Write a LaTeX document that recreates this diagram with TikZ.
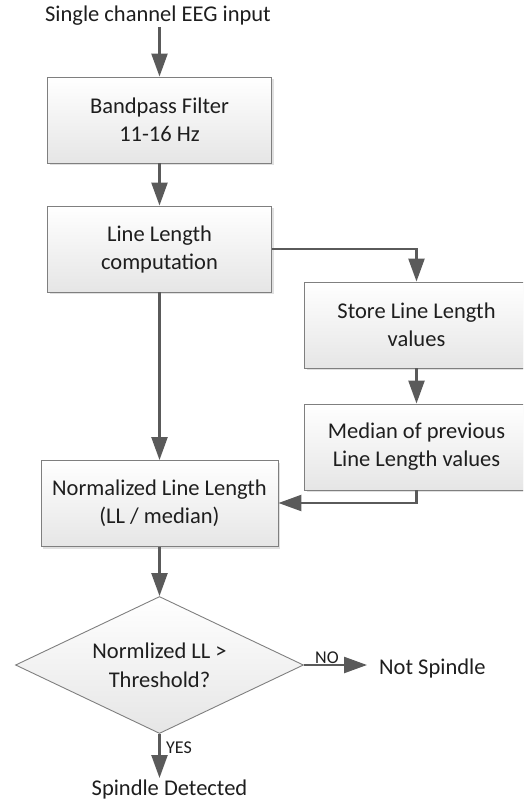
\documentclass[tikz,border=0pt]{standalone}
\usepackage{fontspec}
\setmainfont{Carlito}
\usetikzlibrary{arrows.meta,shapes.geometric,shadows}
\definecolor{arrowgray}{HTML}{5A5A5A}
\definecolor{bordergray}{HTML}{7F7F7F}
\definecolor{txt}{HTML}{1E1E1E}
\tikzset{
  procbox/.style={draw=bordergray, line width=0.9pt, top color=white, bottom color=black!10,
    minimum width=224pt, minimum height=86pt, align=center, inner sep=0pt,
    font=\fontsize{22.5}{28}\selectfont, text=txt,
    drop shadow={shadow xshift=2pt, shadow yshift=-2pt, fill=black!20, opacity=0.6}},
  decision/.style={diamond, draw=bordergray, line width=0.9pt, top color=white, bottom color=black!10,
    minimum width=288pt, minimum height=137pt, aspect=2.1, align=center, inner sep=0pt,
    font=\fontsize{22.5}{29}\selectfont, text=txt},
  plain/.style={font=\fontsize{22.5}{26}\selectfont, text=txt, inner sep=0pt},
  small/.style={font=\fontsize{18}{20}\selectfont, text=txt, inner sep=0pt},
  flow/.style={draw=arrowgray, line width=2.4pt, -{Triangle[length=23pt,width=16pt]}},
  flowline/.style={draw=arrowgray, line width=2.4pt}
}
\begin{document}
\begin{tikzpicture}[x=1pt,y=-1pt]
\useasboundingbox (0,0) rectangle (523,803);
\clip (0,0) rectangle (523,803);
\node[plain] (in) at (158,16) {Single channel EEG input};
\node[procbox] (b1) at (159.5,120) {Bandpass Filter\\11-16 Hz};
\node[procbox] (b2) at (159.5,249) {Line Length\\computation};
\node[procbox] (b3) at (416.5,325) {Store Line Length\\values};
\node[procbox] (b4) at (416.5,447) {Median of previous\\Line Length values};
\node[procbox, minimum width=237pt] (b5) at (159.5,503.5) {Normalized Line Length\\(LL / median)};
\node[decision] (d) at (159.5,665) {Normlized LL >\\Threshold?};
\node[plain, anchor=west] (ns) at (379,668) {Not Spindle};
\node[plain] (sd) at (169.5,789) {Spindle Detected};
\coordinate (inb) at (159.5,27);
\coordinate (noend) at (367,665);
\coordinate (yesend) at (159.5,778);
\coordinate (r1) at (416.5,249);
\coordinate (r2) at (416.5,503);

\draw[flow] (inb) -- (b1.north);
\draw[flow] (b1.south) -- (b2.north);
\draw[flow] (b2.east |- r1) -- (r1) -- (b3.north);
\draw[flow] (b3.south) -- (b4.north);
\draw[flow] (b4.south) -- (r2) -- (b5.east |- r2);
\draw[flow] (b2.south) -- (b5.north);
\draw[flow] (b5.south) -- (d.north);
\draw[flow] (d.east) -- (noend);
\draw[flow] (d.south) -- (yesend);
\node[small, anchor=base west] (no) at (315,663) {NO};
\node[small, anchor=base west] (yes) at (166,753) {YES};
\end{tikzpicture}
\end{document}
